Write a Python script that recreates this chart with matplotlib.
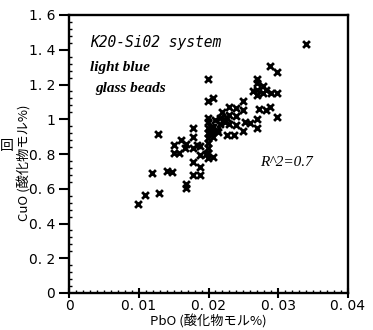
import matplotlib
matplotlib.use("Agg")
import matplotlib.pyplot as plt
from matplotlib.ticker import MultipleLocator

plt.rcParams['font.family'] = ['Noto Sans CJK JP', 'DejaVu Sans']

pbo = [0.0340, 0.0288, 0.0298, 0.0298, 0.0298, 0.0269, 0.0269, 0.0269, 0.0269, 0.0278,
       0.0278, 0.0283, 0.0289, 0.0288, 0.0282, 0.0269, 0.0269, 0.0259, 0.0249, 0.0249,
       0.0249, 0.0240, 0.0240, 0.0240, 0.0236, 0.0230, 0.0230, 0.0226, 0.0226, 0.0220,
       0.0216, 0.0216, 0.0207, 0.0212, 0.0203, 0.0207, 0.0199, 0.0199, 0.0199, 0.0199,
       0.0199, 0.0199, 0.0199, 0.0199, 0.0199, 0.0199, 0.0199, 0.0207, 0.0207, 0.0214,
       0.0203, 0.0188, 0.0188, 0.0188, 0.0188, 0.0178, 0.0178, 0.0178, 0.0178, 0.0178,
       0.0168, 0.0168, 0.0167, 0.0168, 0.0161, 0.0158, 0.0150, 0.0150, 0.0148, 0.0140,
       0.0128, 0.0119, 0.0129, 0.0109, 0.0099, 0.0183, 0.0210, 0.0223, 0.0230, 0.0196,
       0.0264, 0.0273, 0.0253, 0.0203, 0.0222]
cuo = [1.433, 1.307, 1.270, 1.151, 1.013, 1.232, 1.209, 1.168, 1.140, 1.190,
       1.150, 1.168, 1.151, 1.070, 1.053, 1.001, 0.950, 0.978, 1.105, 1.053,
       0.932, 1.065, 1.019, 0.967, 0.909, 1.070, 1.024, 1.007, 0.909, 1.042,
       1.007, 0.973, 0.955, 0.938, 0.955, 1.122, 1.105, 1.232, 1.007, 0.984,
       0.950, 0.921, 0.892, 0.863, 0.834, 0.806, 0.777, 0.898, 0.783, 0.927,
       0.921, 0.846, 0.794, 0.725, 0.679, 0.679, 0.754, 0.834, 0.950, 0.898,
       0.627, 0.604, 0.834, 0.858, 0.881, 0.806, 0.806, 0.852, 0.696, 0.702,
       0.915, 0.690, 0.576, 0.564, 0.512, 0.852, 0.996, 0.984, 0.973, 0.800,
       1.160, 1.060, 0.985, 0.935, 1.000]

xticks = [0, 0.01, 0.02, 0.03, 0.04]
xticklabels = ["0", "0. 01", "0. 02", "0. 03", "0. 04"]
yticks = [0, 0.2, 0.4, 0.6, 0.8, 1.0, 1.2, 1.4, 1.6]
yticklabels = ["0", "0. 2", "0. 4", "0. 6", "0. 8", "1", "1. 2", "1. 4", "1. 6"]

fig = plt.figure(figsize=(3.73, 3.30), dpi=100)
ax = fig.add_axes([69/373, 37/330, 279/373, 278/330])
ax.scatter(pbo, cuo, marker='x', s=24, c='black', linewidths=2.0, zorder=3)
ax.set_xlim(0, 0.04)
ax.set_ylim(0, 1.6)

tickfont = dict(family=['Liberation Sans Narrow', 'DejaVu Sans'], size=10)
ax.set_xticks(xticks)
ax.set_xticklabels(xticklabels, **tickfont)
ax.set_yticks(yticks)
ax.set_yticklabels(yticklabels, **tickfont)
ax.xaxis.set_minor_locator(MultipleLocator(0.001))
ax.yaxis.set_minor_locator(MultipleLocator(0.04))
ax.tick_params(axis='x', which='major', direction='inout', length=7, width=1.5, pad=1)
ax.tick_params(axis='y', which='major', direction='out', length=7, width=1.5, pad=3)
ax.tick_params(which='minor', direction='in', length=2.5, width=1)
for s in ax.spines.values():
    s.set_linewidth(1.7)

ax.text(0.075, 0.90, "K20-Si02 system", transform=ax.transAxes,
        family=['DejaVu Sans Mono'], style='italic', fontsize=10.5, va='center')
ax.text(0.075, 0.81, "light blue", transform=ax.transAxes,
        family=['Liberation Serif'], style='italic', weight='bold', fontsize=11, va='center')
ax.text(0.095, 0.735, "glass beads", transform=ax.transAxes,
        family=['Liberation Serif'], style='italic', weight='bold', fontsize=11, va='center')
ax.text(0.685, 0.47, "R^2=0.7", transform=ax.transAxes,
        family=['Liberation Serif'], style='italic', fontsize=11, va='center')

fig.text(24/373, 1 - 163/330, "CuO (酸化物モル%)", rotation=90, ha='center', va='center', fontsize=9.5)
fig.text(208/373, 1/330, "PbO (酸化物モル%)", ha='center', va='bottom', fontsize=9.5)
fig.text(7/373, 1 - 146/330, "回", ha='center', va='center', fontsize=10)

fig.savefig("out.png", dpi=100)
